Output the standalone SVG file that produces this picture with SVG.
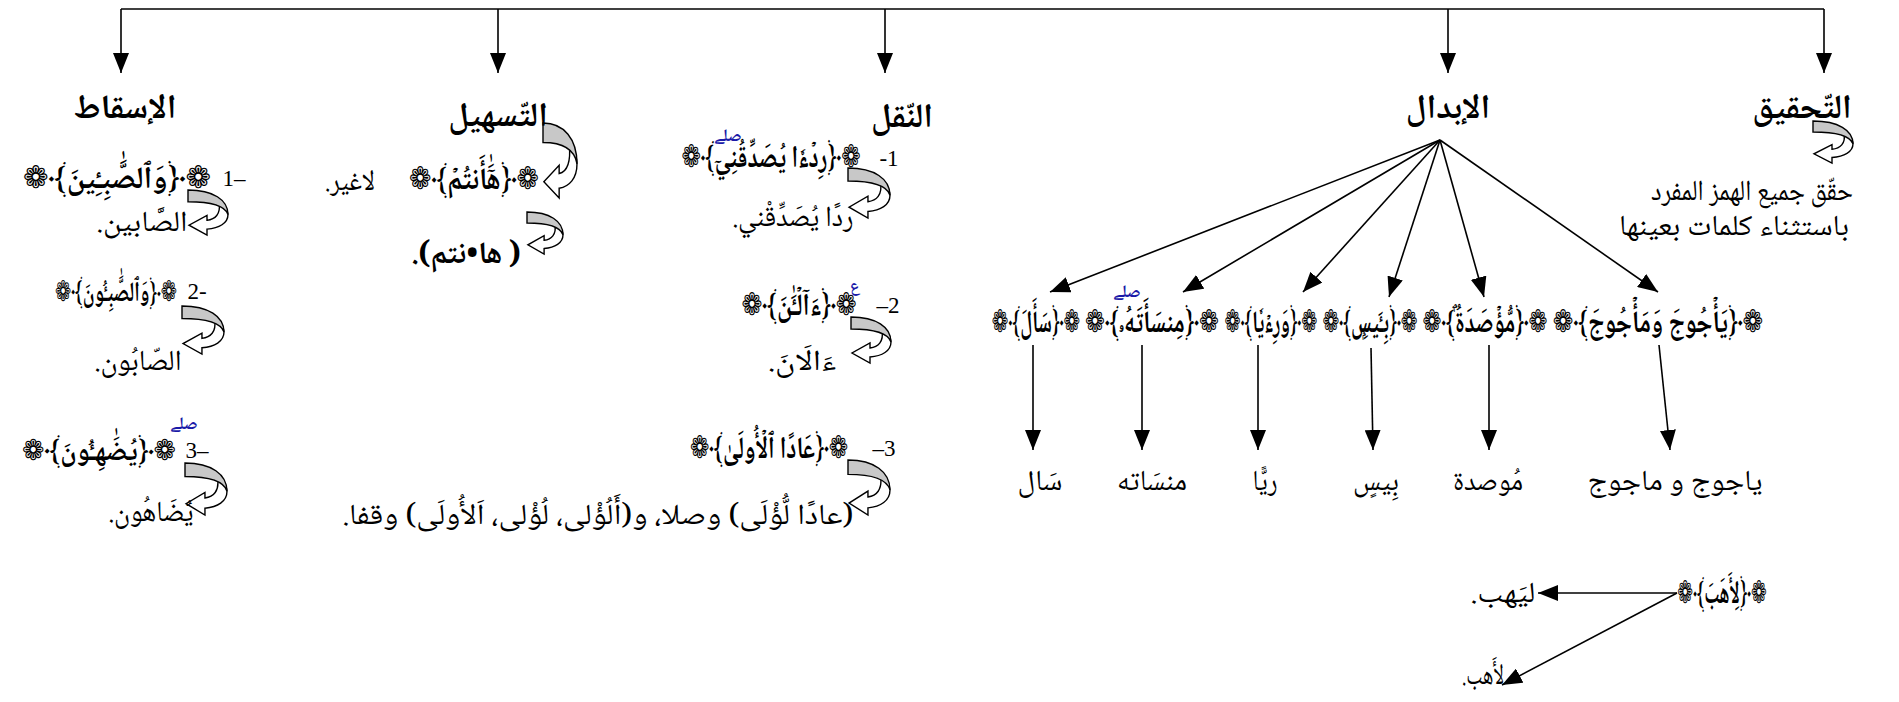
<svg xmlns="http://www.w3.org/2000/svg" width="1899" height="702" viewBox="0 0 1899 702">
<style>
text{font-family:"Noto Naskh Arabic","Amiri","DejaVu Sans",sans-serif;direction:rtl;text-anchor:middle;fill:#000}
.h{font-size:34px;font-weight:bold}
.q{font-size:31px;font-weight:bold}
.t{font-size:29px}
.n{font-family:"Liberation Serif",serif;font-size:23px;direction:ltr}
.b{fill:#1a1aa8;font-size:17px;font-weight:bold}
.ln{stroke:#000;stroke-width:1.6;fill:none}
.cg{fill:#c8c8c8;stroke:#000;stroke-width:1.4}
.cw{fill:#fff;stroke:#000;stroke-width:1.4}
</style>
<defs>
<marker id="ah" viewBox="0 0 20 16" refX="20" refY="8" markerWidth="20" markerHeight="16" markerUnits="userSpaceOnUse" orient="auto"><path d="M0,0 L20,8 L0,16 Z" fill="#000"/></marker>
<symbol id="curl" viewBox="0 0 40 46" preserveAspectRatio="none" overflow="visible">
<path class="cw" vector-effect="non-scaling-stroke" d="M31,13 C37,17 40,21 40,25 C40,34 31,39 19,40 L19,46 L1,36 L19,26 L19,31 C27,30 33,25 31,13 Z"/>
<path class="cg" vector-effect="non-scaling-stroke" d="M0,0 C25,0 40,10 40,25 C37,16 24,12 0,12 Z"/>
</symbol>
</defs>

<g id="connectors">
<path class="ln" d="M121,9 H1824"/>
<path class="ln" marker-end="url(#ah)" d="M121,9 V73"/>
<path class="ln" marker-end="url(#ah)" d="M498,9 V73"/>
<path class="ln" marker-end="url(#ah)" d="M885,9 V73"/>
<path class="ln" marker-end="url(#ah)" d="M1448,9 V73"/>
<path class="ln" marker-end="url(#ah)" d="M1824,9 V73"/>
<path class="ln" marker-end="url(#ah)" d="M1440,140 L1050,292"/>
<path class="ln" marker-end="url(#ah)" d="M1440,140 L1183,292"/>
<path class="ln" marker-end="url(#ah)" d="M1440,140 L1303,292"/>
<path class="ln" marker-end="url(#ah)" d="M1440,140 L1389,297"/>
<path class="ln" marker-end="url(#ah)" d="M1440,140 L1484,297"/>
<path class="ln" marker-end="url(#ah)" d="M1440,140 L1658,292"/>
<path class="ln" marker-end="url(#ah)" d="M1033,345 V450"/>
<path class="ln" marker-end="url(#ah)" d="M1142,345 V450"/>
<path class="ln" marker-end="url(#ah)" d="M1258,345 V450"/>
<path class="ln" marker-end="url(#ah)" d="M1371,348 L1373,450"/>
<path class="ln" marker-end="url(#ah)" d="M1489,345 V450"/>
<path class="ln" marker-end="url(#ah)" d="M1659,345 L1670,450"/>
<path class="ln" marker-end="url(#ah)" d="M1677,593 H1538"/>
<path class="ln" marker-end="url(#ah)" d="M1677,593 L1502,685"/>
<use href="#curl" x="1813" y="121" width="40" height="42"/>
<use href="#curl" x="543" y="123" width="34" height="75"/>
<use href="#curl" x="527" y="212" width="36" height="42"/>
<use href="#curl" x="848" y="168" width="42" height="50"/>
<use href="#curl" x="851" y="317" width="40" height="46"/>
<use href="#curl" x="848" y="460" width="42" height="55"/>
<use href="#curl" x="188" y="190" width="40" height="45"/>
<use href="#curl" x="182" y="306" width="42" height="48"/>
<use href="#curl" x="185" y="463" width="42" height="52"/>
</g>

<g id="n-isqat">
<text class="h" x="125" y="118">الإسقاط</text>
<text class="n" x="234" y="186">1–</text>
<text class="q" transform="translate(117,188) scale(0.887,1)" textLength="212" lengthAdjust="spacingAndGlyphs">❁﴿وَٱلصَّٰبِـِٔينَ﴾❁</text>
<text class="t" x="142" y="231" textLength="91" lengthAdjust="spacingAndGlyphs">الصَّابين.</text>
<text class="n" x="197" y="299">2-</text>
<text class="q" style="font-size:28px" transform="translate(116,301) scale(0.65,1)" textLength="188" lengthAdjust="spacingAndGlyphs">❁﴿وَٱلصَّٰبِـُٔونَ﴾❁</text>
<text class="t" x="138" y="370" textLength="87" lengthAdjust="spacingAndGlyphs">الصّابُون.</text>
<text class="n" x="197" y="458">3–</text>
<text class="q" style="font-size:29px" transform="translate(99,460) scale(0.71,1)" textLength="217" lengthAdjust="spacingAndGlyphs">❁﴿يُضَٰهِـُٔونَ﴾❁</text>
<text class="b" x="184" y="429">ﷰ</text>
<text class="t" x="151" y="521" textLength="85" lengthAdjust="spacingAndGlyphs">يُضَاهُون.</text>
</g>

<g id="n-tashil">
<text class="h" x="498" y="126">التّسهيل</text>
<text class="q" transform="translate(474,189) scale(0.86,1)" textLength="151" lengthAdjust="spacingAndGlyphs">❁﴿هَٰٓأَنتُمۡ﴾❁</text>
<text class="t" x="350" y="190" textLength="50" lengthAdjust="spacingAndGlyphs">لاغير.</text>
<text class="q" x="466" y="263" textLength="110" lengthAdjust="spacingAndGlyphs">( ها•نتم).</text>
</g>

<g id="n-naql">
<text class="h" x="902" y="127">النّقل</text>
<text class="n" x="889" y="166">-1</text>
<text class="q" transform="translate(771,167) scale(0.8,1)" textLength="224" lengthAdjust="spacingAndGlyphs">❁﴿رِدۡءٗا يُصَدِّقُنِيٓ﴾❁</text>
<text class="b" x="728" y="141">ﷰ</text>
<text class="t" x="793" y="226" textLength="121" lengthAdjust="spacingAndGlyphs">ردًا يُصَدِّقْني.</text>
<text class="n" x="888" y="313">–2</text>
<text class="q" transform="translate(799,315) scale(0.8,1)" textLength="144" lengthAdjust="spacingAndGlyphs">❁﴿ءَآلۡـَٰٔنَ﴾❁</text>
<text class="b" x="855" y="291">ع</text>
<text class="t" x="802" y="370" textLength="68" lengthAdjust="spacingAndGlyphs">ءَالَانَ.</text>
<text class="n" x="884" y="456">–3</text>
<text class="q" transform="translate(769,458) scale(0.75,1)" textLength="211" lengthAdjust="spacingAndGlyphs">❁﴿عَادًا ٱلۡأُولَىٰ﴾❁</text>
<text class="t" x="598" y="524" textLength="511" lengthAdjust="spacingAndGlyphs">(عادًا لُّؤْلَى) وصلا، و(أَلُؤْلى، لُؤْلى، اَلأُولَى) وقفا.</text>
</g>

<g id="n-ibdal">
<text class="h" x="1448" y="118">الإبدال</text>
<text class="q" transform="translate(1036,332) scale(0.95,1)" textLength="93" lengthAdjust="spacingAndGlyphs">❁﴿سَأَلَ﴾❁</text>
<text class="q" transform="translate(1152,332) scale(0.76,1)" textLength="176" lengthAdjust="spacingAndGlyphs">❁﴿مِنسَأَتَهُۥ﴾❁</text>
<text class="b" x="1127" y="297">ﷰ</text>
<text class="q" transform="translate(1271,332) scale(0.86,1)" textLength="108" lengthAdjust="spacingAndGlyphs">❁﴿وَرِءۡيٗا﴾❁</text>
<text class="q" transform="translate(1370,332) scale(0.75,1)" textLength="127" lengthAdjust="spacingAndGlyphs">❁﴿بِـَٔيسِۭ﴾❁</text>
<text class="q" transform="translate(1485,332) scale(0.88,1)" textLength="142" lengthAdjust="spacingAndGlyphs">❁﴿مُّؤۡصَدَةُۢ﴾❁</text>
<text class="q" transform="translate(1658,332) scale(0.8,1)" textLength="263" lengthAdjust="spacingAndGlyphs">❁﴿يَأۡجُوجَ وَمَأۡجُوجَ﴾❁</text>
<text class="t" x="1040" y="490" textLength="45" lengthAdjust="spacingAndGlyphs">سَال</text>
<text class="t" x="1152" y="490" textLength="70" lengthAdjust="spacingAndGlyphs">منسَاته</text>
<text class="t" x="1265" y="490" textLength="25" lengthAdjust="spacingAndGlyphs">ريًّا</text>
<text class="t" x="1376" y="490" textLength="46" lengthAdjust="spacingAndGlyphs">بِيسٍ</text>
<text class="t" x="1488" y="490" textLength="70" lengthAdjust="spacingAndGlyphs">مُوصدة</text>
<text class="t" x="1675" y="490" textLength="175" lengthAdjust="spacingAndGlyphs">ياجوج و ماجوج</text>
</g>

<g id="n-lahab">
<text class="q" transform="translate(1722,603) scale(0.77,1)" textLength="116" lengthAdjust="spacingAndGlyphs">❁﴿لِأَهَبَ﴾❁</text>
<text class="t" x="1503" y="602" textLength="65" lengthAdjust="spacingAndGlyphs">ليَهب.</text>
<text class="t" x="1483" y="684" textLength="42" lengthAdjust="spacingAndGlyphs">لأَهب.</text>
</g>

<g id="n-tahqiq">
<text class="h" x="1802" y="118">التّحقيق</text>
<text class="t" x="1752" y="200" textLength="202" lengthAdjust="spacingAndGlyphs">حقّق جميع الهمز المفرد</text>
<text class="t" x="1734" y="235" textLength="230" lengthAdjust="spacingAndGlyphs">باستثناء كلمات بعينها</text>
</g>
</svg>
